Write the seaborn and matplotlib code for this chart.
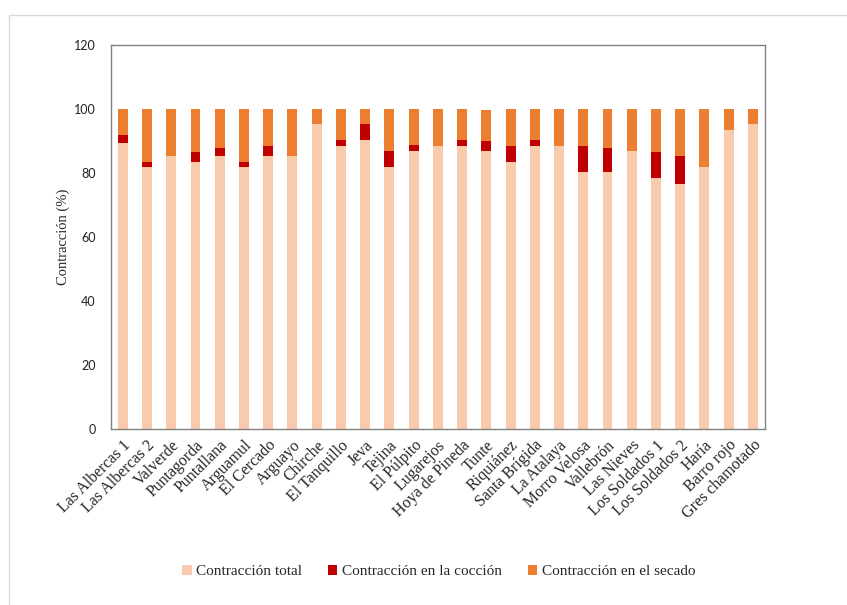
import matplotlib
matplotlib.use("Agg")
import matplotlib.pyplot as plt
import seaborn as sns
import pandas as pd
import numpy as np
from matplotlib.patches import Patch, Rectangle

names = ["Las Albercas 1", "Las Albercas 2", "Valverde", "Puntagorda", "Puntallana",
         "Arguamul", "El Cercado", "Arguayo", "Chirche", "El Tanquillo", "Jeva", "Tejina",
         "El Púlpito", "Lugarejos", "Hoya de Pineda", "Tunte", "Riquiánez", "Santa Brígida",
         "La Atalaya", "Morro Velosa", "Vallebrón", "Las Nieves", "Los Soldados 1",
         "Los Soldados 2", "Haría", "Barro rojo", "Gres chamotado"]
total = [89.5, 81.9, 85.2, 83.5, 85.2, 81.9, 85.2, 85.2, 95.2, 88.4, 90.2, 81.9, 86.9, 88.5,
         88.4, 86.9, 83.5, 88.4, 88.5, 80.3, 80.3, 86.9, 78.4, 76.7, 81.9, 93.4, 95.2]
coccion = [2.4, 1.6, 0, 3.2, 2.5, 1.6, 3.3, 0, 0, 1.9, 5.0, 5.0, 1.8, 0, 1.9, 3.0, 5.0, 1.9,
           0, 8.2, 7.4, 0, 8.3, 8.6, 0, 0, 0]
secado = [8.1, 16.5, 14.8, 13.3, 12.3, 16.5, 11.5, 14.8, 4.8, 9.7, 4.8, 13.1, 11.3, 11.5,
          9.7, 9.8, 11.5, 9.7, 11.5, 11.5, 12.3, 13.1, 13.3, 14.7, 18.1, 6.6, 4.8]
series_labels = ["Contracción total", "Contracción en la cocción", "Contracción en el secado"]
yticks = [0, 20, 40, 60, 80, 100, 120]

c_total = "#F8CBAD"
c_cocc = "#C00000"
c_sec = "#ED7D31"

df = pd.DataFrame({"name": names, "total": total, "coccion": coccion, "secado": secado})
df["lvl2"] = df["total"] + df["coccion"]
df["lvl3"] = df["lvl2"] + df["secado"]

sns.set_style("white")
fig = plt.figure(figsize=(8.47, 6.05), dpi=100)
ax = fig.add_axes([0.1307, 0.2909, 0.7725, 0.6347])

w = 0.41
sns.barplot(data=df, x="name", y="lvl3", color=c_sec, saturation=1, width=w, ax=ax)
sns.barplot(data=df, x="name", y="lvl2", color=c_cocc, saturation=1, width=w, ax=ax)
sns.barplot(data=df, x="name", y="total", color=c_total, saturation=1, width=w, ax=ax)
for p in ax.patches:
    p.set_edgecolor("none")
    p.set_linewidth(0)

ax.set_xlim(-0.5, len(names) - 0.5)
ax.set_ylim(0, 120)
ax.set_yticks(yticks)
ax.set_yticklabels([str(v) for v in yticks], fontfamily="Lato", fontsize=9, color="#222222")
ax.set_xticks(range(len(names)))
ax.set_xticklabels(names, rotation=45, ha="right", rotation_mode="anchor",
                   fontfamily="Liberation Serif", fontsize=11.5)
ax.tick_params(axis="both", length=0)
ax.tick_params(axis="y", pad=11)
ax.tick_params(axis="x", pad=6)
ax.set_xlabel("")
ax.set_ylabel("Contracción (%)", fontfamily="Liberation Serif", fontsize=10.5, labelpad=3)
for s in ax.spines.values():
    s.set_visible(True)
    s.set_color("#808080")
    s.set_linewidth(1.0)

handles = [Patch(facecolor=c, edgecolor="none") for c in (c_total, c_cocc, c_sec)]
fig.legend(handles, series_labels, loc="center", bbox_to_anchor=(0.518, 0.055), ncol=3,
           frameon=False, prop={"family": "Liberation Serif", "size": 11},
           handlelength=0.6, handleheight=0.6, handletextpad=0.3, columnspacing=1.7)

# outer chart frame
fig.add_artist(Rectangle((9 / 847, -0.1), 2.0, 1 - 15 / 605 + 0.1, transform=fig.transFigure,
                         fill=False, edgecolor="#D9D9D9", linewidth=1.0))

fig.savefig("out.png", dpi=100, facecolor="white")
